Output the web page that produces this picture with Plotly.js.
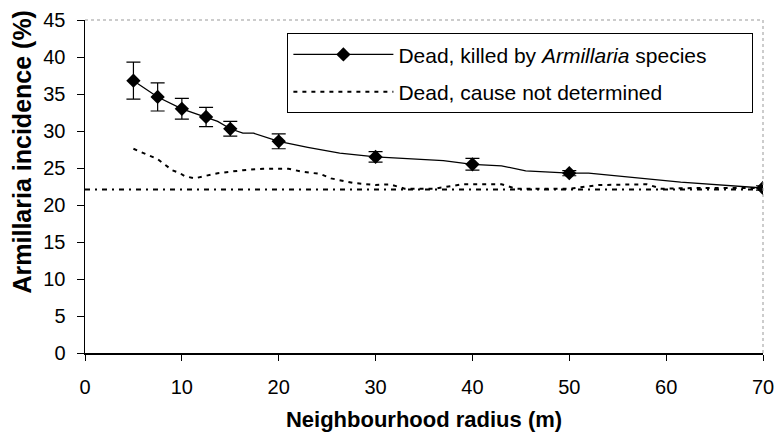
<!DOCTYPE html>
<html>
<head>
<meta charset="utf-8">
<script src="https://cdn.plot.ly/plotly-3.0.1.min.js"></script>
<style>html,body{margin:0;padding:0;background:#fff;}#chart{width:776px;height:434px;}</style>
</head>
<body>
<div id="chart"></div>
<script>
// Sampled radii with markers and error bars (Dead, killed by Armillaria species)
const radius = [5, 7.5, 10, 12.5, 15, 20, 30, 40, 50, 70];
const killed = [36.8, 34.6, 33.0, 31.9, 30.3, 28.6, 26.5, 25.5, 24.3, 22.3];
const killedErr = [2.5, 1.9, 1.4, 1.3, 1.0, 1.0, 0.7, 0.8, 0.35, 0.3];

// Continuous curve of the killed series
const curveRadius = [5, 7.5, 10, 12.5, 13.7, 15, 16.3, 17.4, 20, 23, 26.3, 30, 35, 37, 40, 43, 45.5, 50, 52, 61.5, 70];
const curveKilled = [36.8, 34.6, 33.0, 31.9, 31.3, 30.3, 29.7, 29.7, 28.6, 27.8, 27.0, 26.5, 26.2, 26.0, 25.5, 25.3, 24.6, 24.3, 24.3, 23.1, 22.3];

// Dead, cause not determined
const undetRadius = [5, 6.4, 7.5, 8.3, 9, 9.8, 10.3, 11.3, 12.5, 13.7, 15, 16.3, 18.4, 20, 21, 22.4, 24.3, 25.4, 26.7, 27.6, 30, 31.5, 33, 36, 38, 39, 43, 44.5, 50, 53, 58, 59.5, 63, 70];
const undetValues = [27.6, 26.8, 26.2, 25.4, 24.7, 24.3, 23.9, 23.6, 23.9, 24.3, 24.5, 24.7, 24.9, 24.9, 24.9, 24.5, 24.2, 23.6, 23.2, 23.0, 22.7, 22.8, 22.2, 22.2, 22.6, 22.8, 22.8, 22.2, 22.2, 22.7, 22.8, 22.2, 22.3, 22.3];

// Reference level (dash-dot horizontal line)
const baselineRadius = [0, 70];
const baselineValue = 22.1;

const xTicks = [0, 10, 20, 30, 40, 50, 60, 70];
const yTicks = [0, 5, 10, 15, 20, 25, 30, 35, 40, 45];

const FONT = 'Liberation Sans, Arial, sans-serif';
const PAD = '\u00a0\u00a0\u00a0\u00a0\u00a0\u00a0\u00a0';
const nameKilled = 'Dead, killed by <i>Armillaria</i> species' + PAD;
const nameUndet = 'Dead, cause not determined';

const traces = [
  {
    x: [null], y: [null], name: nameKilled, legendgroup: 'a',
    mode: 'lines+markers', hoverinfo: 'skip',
    marker: {symbol: 'diamond', size: 11, color: '#000'},
    line: {color: '#000', width: 1.3}
  },
  {
    x: undetRadius, y: undetValues, name: nameUndet,
    mode: 'lines', legendgroup: 'b', showlegend: true,
    line: {color: '#000', width: 2, dash: '4px,5px'}
  },
  {
    x: baselineRadius, y: baselineRadius.map(() => baselineValue),
    mode: 'lines', showlegend: false, hoverinfo: 'skip',
    line: {color: '#000', width: 2, dash: '5px,5px,2px,5px'}
  },
  {
    x: curveRadius, y: curveKilled, mode: 'lines', showlegend: false,
    line: {color: '#000', width: 1.3}
  },
  {
    x: radius, y: killed, mode: 'markers', showlegend: false,
    marker: {symbol: 'diamond', size: 11, color: '#000'},
    error_y: {type: 'data', array: killedErr, visible: true, color: '#000', thickness: 1.2, width: 7}
  }
];

const layout = {
  width: 776, height: 434,
  margin: {l: 85, r: 13, t: 20, b: 81},
  paper_bgcolor: '#fff', plot_bgcolor: '#fff',
  font: {family: FONT, color: '#000', size: 20},
  showlegend: true,
  legend: {
    x: 0.2985, y: 0.96, xanchor: 'left', yanchor: 'top',
    bgcolor: '#fff', bordercolor: '#000', borderwidth: 1,
    font: {family: FONT, size: 21, color: '#000'},
    itemwidth: 100, traceorder: 'grouped', tracegroupgap: 7
  },
  xaxis: {
    range: [0, 70], tickvals: xTicks, ticktext: xTicks.map(String),
    showgrid: false, zeroline: false,
    showline: true, linecolor: '#000', linewidth: 1.5,
    ticks: 'outside', ticklen: 6, tickwidth: 1, tickcolor: '#000',
    ticklabelstandoff: 9,
    tickfont: {family: FONT, size: 20, color: '#000'},
    title: {text: 'Neighbourhood radius (m)', standoff: 15,
            font: {family: FONT, size: 22, color: '#000', weight: 'bold'}}
  },
  yaxis: {
    range: [0, 45], tickvals: yTicks, ticktext: yTicks.map(String),
    showgrid: false, zeroline: false,
    showline: true, linecolor: '#000', linewidth: 1.5,
    ticks: 'outside', ticklen: 7, tickwidth: 1, tickcolor: '#000',
    ticklabelstandoff: 7,
    tickfont: {family: FONT, size: 20, color: '#000'}
  },
  annotations: [{
    text: 'Armillaria incidence (%)', textangle: -90,
    xref: 'paper', yref: 'paper', x: -0.093, y: 0.605,
    xanchor: 'center', yanchor: 'middle', showarrow: false,
    font: {family: FONT, size: 25, color: '#000', weight: 'bold'}
  }],
  shapes: [
    {type: 'line', xref: 'paper', yref: 'paper', x0: 0, x1: 1, y0: 1, y1: 1,
     line: {color: '#999', width: 1, dash: 'dot'}},
    {type: 'line', xref: 'paper', yref: 'paper', x0: 1, x1: 1, y0: 0, y1: 1,
     line: {color: '#999', width: 1, dash: 'dot'}}
  ]
};

Plotly.newPlot('chart', traces, layout, {staticPlot: true, displayModeBar: false});
</script>
</body>
</html>
